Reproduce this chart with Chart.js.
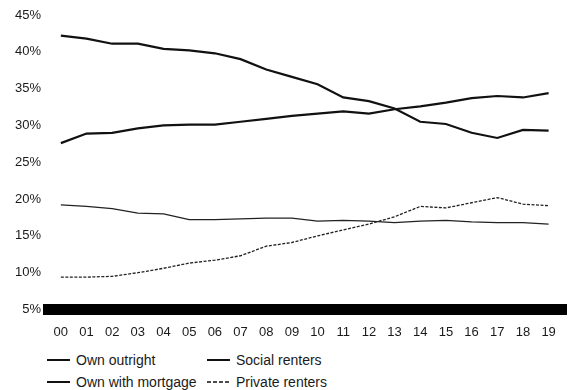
<!DOCTYPE html>
<html>
<head>
<meta charset="utf-8">
<script src="https://cdn.jsdelivr.net/npm/chart.js@4"></script>
<style>
  html, body { margin: 0; padding: 0; background: #fff; }
  #wrap { position: relative; width: 571px; height: 390px; overflow: hidden; }
  #box { position: absolute; left: 0; top: 0; width: 571px; height: 345px; }
  #legend {
    position: absolute; left: 47px; top: 351px;
    display: grid; grid-template-columns: 160px 200px; grid-template-rows: 22px 22px;
    grid-auto-flow: column;
    font: 14px "Liberation Sans", Arial, sans-serif; color: #1a1a1a;
  }
  #legend div { display: flex; align-items: center; height: 18px; }
  #legend svg { margin-right: 6px; }
</style>
</head>
<body>
<div id="wrap">
  <div id="box"><canvas id="chart"></canvas></div>
  <div id="legend"></div>
</div>
<script>
const years = ['00','01','02','03','04','05','06','07','08','09','10','11','12','13','14','15','16','17','18','19'];

const ownOutright = [27.6, 28.9, 29.0, 29.6, 30.0, 30.1, 30.1, 30.5, 30.9, 31.3, 31.6, 31.9, 31.6, 32.2, 32.6, 33.1, 33.7, 34.0, 33.8, 34.4];
const ownMortgage = [42.2, 41.8, 41.1, 41.1, 40.4, 40.2, 39.8, 39.0, 37.6, 36.6, 35.6, 33.8, 33.3, 32.3, 30.5, 30.2, 29.0, 28.3, 29.4, 29.3];
const socialRenters = [19.2, 19.0, 18.7, 18.1, 18.0, 17.2, 17.2, 17.3, 17.4, 17.4, 17.0, 17.1, 17.0, 16.8, 17.0, 17.1, 16.9, 16.8, 16.8, 16.6];
const privateRenters = [9.4, 9.4, 9.5, 10.0, 10.6, 11.3, 11.7, 12.3, 13.6, 14.1, 15.0, 15.8, 16.6, 17.6, 19.0, 18.8, 19.5, 20.2, 19.3, 19.1];

const yTicks = [5, 10, 15, 20, 25, 30, 35, 40, 45];

const tickFont = { family: '"Liberation Sans", Arial, sans-serif', size: 13 };

const datasets = [
  { label: 'Own outright', data: ownOutright, borderColor: '#111', borderWidth: 2.2, dash: [] },
  { label: 'Own with mortgage', data: ownMortgage, borderColor: '#111', borderWidth: 2.2, dash: [] },
  { label: 'Social renters', data: socialRenters, borderColor: '#222', borderWidth: 1.3, dash: [] },
  { label: 'Private renters', data: privateRenters, borderColor: '#222', borderWidth: 1.3, dash: [3, 1.5] }
].map(d => ({
  label: d.label,
  data: d.data,
  borderColor: d.borderColor,
  borderWidth: d.borderWidth,
  borderDash: d.dash,
  pointRadius: 0,
  tension: 0,
  fill: false
}));

const chart = new Chart(document.getElementById('chart'), {
  type: 'line',
  data: { labels: years, datasets },
  options: {
    responsive: true,
    maintainAspectRatio: false,
    animation: false,
    layout: { padding: { top: 15, right: 6, left: 0, bottom: 0 } },
    plugins: { legend: { display: false }, tooltip: { enabled: false } },
    scales: {
      x: {
        offset: true,
        grid: { display: false, drawTicks: false, lineWidth: 11 },
        border: { display: true, color: '#000', width: 11 },
        ticks: { color: '#1a1a1a', font: tickFont, padding: 15, maxRotation: 0, autoSkip: false },
        afterFit: s => { s.height = 35.5; }
      },
      y: {
        min: yTicks[0],
        max: yTicks[yTicks.length - 1],
        afterBuildTicks: s => { s.ticks = yTicks.map(v => ({ value: v })); },
        grid: { display: false, drawTicks: false },
        border: { display: false },
        ticks: { color: '#1a1a1a', font: tickFont, padding: 7, callback: v => v + '%' },
        afterFit: s => { s.width = 48; }
      }
    }
  }
});

// legend, two columns like the print
const legend = document.getElementById('legend');
chart.data.datasets.forEach(ds => {
  const item = document.createElement('div');
  const dash = ds.borderDash.length ? 'stroke-dasharray="4 2"' : '';
  item.innerHTML = `<svg width="23" height="4"><line x1="0" y1="2" x2="23" y2="2" stroke="#111" stroke-width="${ds.borderDash.length ? 1.5 : 2}" ${dash}/></svg><span>${ds.label}</span>`;
  legend.appendChild(item);
});
</script>
</body>
</html>
